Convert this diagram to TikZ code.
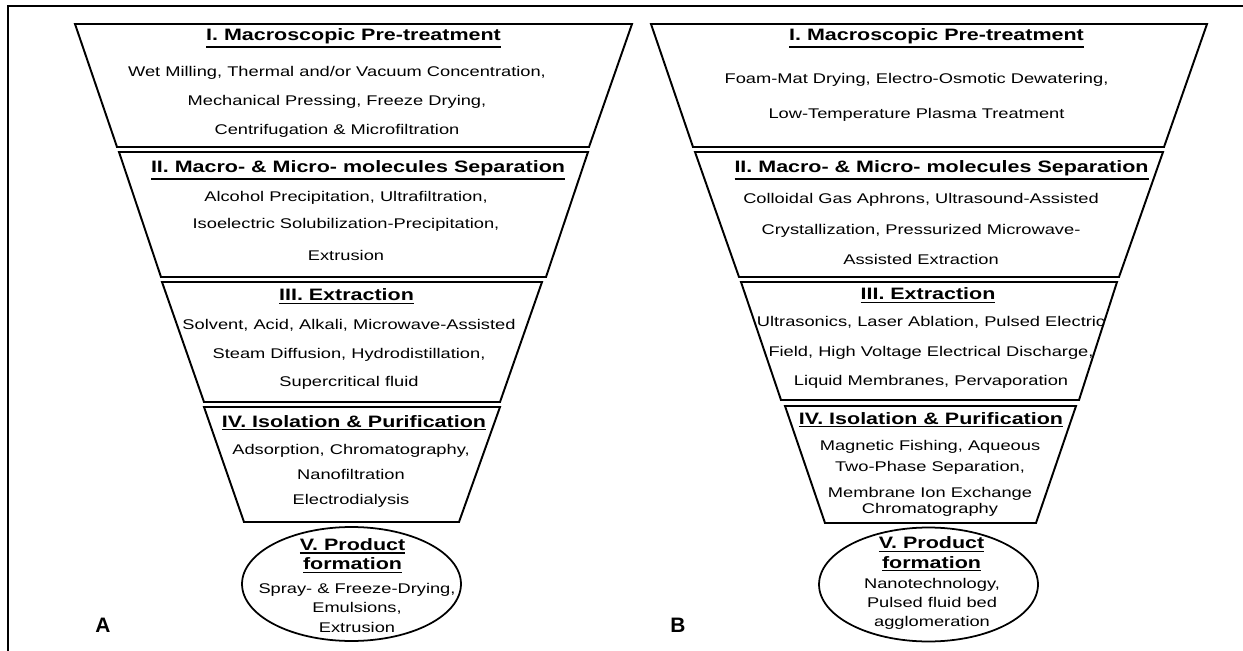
\documentclass[tikz,border=0pt]{standalone}
\usepackage{fontspec}
\setmainfont{Liberation Sans}[FakeStretch=1.3]
\newfontfamily\panelfont{Liberation Sans}
\usetikzlibrary{shapes.geometric}

% heavier underline for the stage headings
\newcommand{\stageul}[1]{\vtop{\hbox{#1}\kern1.1pt\hrule height 0.75pt}}

\tikzset{
  stage/.style={draw, line width=1.1pt, line join=miter},
  prodshape/.style={draw, ellipse, line width=1pt, minimum width=4.38cm, minimum height=2.28cm, inner sep=0pt},
  ttl/.style={font=\fontsize{9.4}{11}\selectfont\bfseries, align=center, inner sep=0pt, anchor=base},
  txt/.style={font=\fontsize{8}{#1}\selectfont, align=center, inner sep=0pt, anchor=base},
  panel/.style={font=\panelfont\fontsize{11.9}{14}\selectfont\bfseries, inner sep=0pt, anchor=base},
}

\begin{document}
\begin{tikzpicture}[x=0.02cm, y=-0.02cm]

% page and frame
\path[fill=white, use as bounding box] (0,0) rectangle (1243,651);
\draw[line width=1.3pt] (8,651) -- (8,6) -- (1243,6);

% ===== LEFT FUNNEL: A =====
% (text nodes sit on the baseline of their last line)
\draw[stage] (75,24) -- (632,24) -- (589,147) -- (117,147) -- cycle;
\node[ttl] (a1title) at (353.5,41) {\stageul{I. Macroscopic Pre-treatment}};
\node[txt=16.7pt] (a1text) at (337,135) {Wet Milling, Thermal and/or Vacuum Concentration,\\Mechanical Pressing, Freeze Drying,\\Centrifugation \& Microfiltration};

\draw[stage] (119,152) -- (588,152) -- (546,277) -- (161,277) -- cycle;
\node[ttl] (a2title) at (358,173) {\stageul{II. Macro- \& Micro- molecules Separation}};
\node[txt=15.3pt] (a2text) at (346,261) {Alcohol Precipitation, Ultrafiltration,\\Isoelectric Solubilization-Precipitation,\\[3.4pt]Extrusion};

\draw[stage] (162,282) -- (542,282) -- (500,402) -- (204,402) -- cycle;
\node[ttl] (a3title) at (346.5,301) {\stageul{III. Extraction}};
\node[txt=16.4pt] (a3text) at (349,387) {Solvent, Acid, Alkali, Microwave-Assisted\\Steam Diffusion, Hydrodistillation,\\Supercritical fluid};

\draw[stage] (204,407) -- (500,407) -- (459,522) -- (244,522) -- cycle;
\node[ttl] (a4title) at (354,427) {\stageul{IV. Isolation \& Purification}};
\node[txt=14.2pt] (a4text) at (351,504) {Adsorption, Chromatography,\\Nanofiltration\\Electrodialysis};

\node[prodshape] (a5) at (351.5,584) {};
\node[ttl] (a5title) at (352.5,569.5) {\stageul{V. Product}\\\stageul{formation}};
\node[txt=11pt] (a5text) at (357,632) {Spray- \& Freeze-Drying,\\Emulsions,\\Extrusion};

\node[panel] (alabel) at (103,632) {A};

% ===== RIGHT FUNNEL: B =====
\draw[stage] (651,24) -- (1207,24) -- (1164,147) -- (693,147) -- cycle;
\node[ttl] (b1title) at (936.5,41) {\stageul{I. Macroscopic Pre-treatment}};
\node[txt=20.4pt] (b1text) at (916.5,119) {Foam-Mat Drying, Electro-Osmotic Dewatering,\\Low-Temperature Plasma Treatment};

\draw[stage] (695,152) -- (1163,152) -- (1119,277) -- (739,277) -- cycle;
\node[ttl] (b2title) at (941.5,173) {\stageul{II. Macro- \& Micro- molecules Separation}};
\node[txt=17.6pt] (b2text) at (921,265) {Colloidal Gas Aphrons, Ultrasound-Assisted\\Crystallization, Pressurized Microwave-\\Assisted Extraction};

\draw[stage] (741,282) -- (1117,282) -- (1079,400) -- (781,400) -- cycle;
\node[ttl] (b3title) at (928,300) {\stageul{III. Extraction}};
\node[txt=17pt] (b3text) at (931,386) {Ultrasonics, Laser Ablation, Pulsed Electric\\Field, High Voltage Electrical Discharge,\\Liquid Membranes, Pervaporation};

\draw[stage] (785,406) -- (1076,406) -- (1036,523) -- (825,523) -- cycle;
\node[ttl] (b4title) at (931,424) {\stageul{IV. Isolation \& Purification}};
\node[txt=11.9pt] (b4text) at (930,513) {Magnetic Fishing, Aqueous\\Two-Phase Separation,\\[2.8pt]Membrane Ion Exchange\\[-2.8pt]Chromatography};

\node[prodshape] (b5) at (928.5,584.5) {};
\node[ttl] (b5title) at (931.5,568) {\stageul{V. Product}\\\stageul{formation}};
\node[txt=10.8pt] (b5text) at (932,626) {Nanotechnology,\\Pulsed fluid bed\\agglomeration};

\node[panel] (blabel) at (678,632) {B};

\end{tikzpicture}
\end{document}
